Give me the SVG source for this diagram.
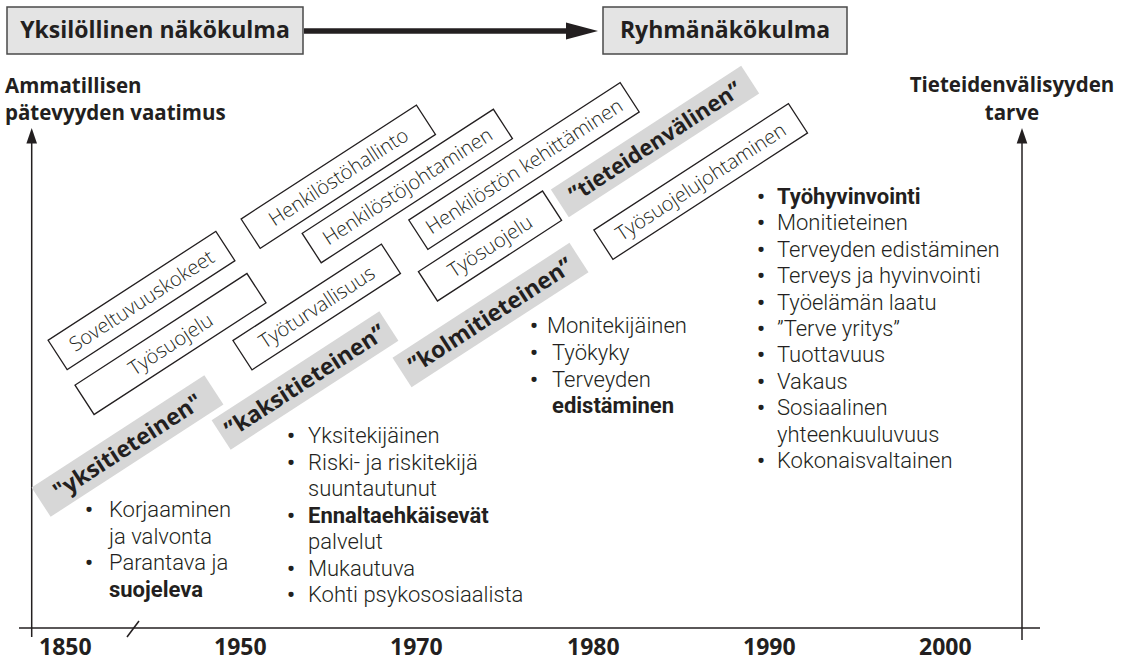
<svg xmlns="http://www.w3.org/2000/svg" width="1124" height="663" viewBox="0 0 1124 663">
<defs>
<style>
text{font-family:"Open Sans","Liberation Sans",sans-serif;fill:#231f20}
.lst{font-family:Roboto,"Open Sans","Liberation Sans",sans-serif;font-size:22px;font-weight:300}
.lst .b{font-weight:700}
.lst .u{font-weight:700}
.hdr rect{fill:#e4e4e4;stroke:#4a4a4a;stroke-width:1.5}
.hdr text{font-size:23px;font-weight:700;text-anchor:middle}
.ax{font-size:20.5px;font-weight:700}
.yr{font-size:23px;font-weight:700}
.box rect{fill:#fff;stroke:#231f20;stroke-width:1.3}
.box text{font-size:20px;font-weight:300;text-anchor:middle}
.band rect{fill:#d7d7d7}
.band text{font-size:23px;font-weight:700;text-anchor:middle}
.axis{stroke:#231f20;stroke-width:1.5;fill:none}
</style>
</defs>

<g id="hdr-yksilollinen" class="hdr">
<rect x="7" y="7" width="296" height="47"/>
<text x="155" y="38">Yksilöllinen näkökulma</text>
</g>
<g id="hdr-ryhma" class="hdr">
<rect x="603" y="7" width="244" height="47"/>
<text x="725" y="38">Ryhmänäkökulma</text>
</g>

<g id="connectors">
<line x1="304" y1="31" x2="570" y2="31" stroke="#231f20" stroke-width="5.5"/>
<polygon points="566,22.5 598,31 566,39.5" fill="#231f20"/>
</g>

<g id="axes">
<line class="axis" x1="19" y1="628" x2="1040" y2="628"/>
<line class="axis" x1="31.7" y1="637" x2="31.7" y2="143"/>
<polygon points="31.7,128 26.4,143.5 37,143.5" fill="#231f20"/>
<line class="axis" x1="1022" y1="640" x2="1022" y2="143"/>
<polygon points="1022,128 1016.7,143.5 1027.3,143.5" fill="#231f20"/>
<line class="axis" x1="127" y1="637" x2="139" y2="621" stroke-width="1.2"/>
</g>

<g id="axis-labels">
<text class="ax" x="5" y="93">Ammatillisen</text>
<text class="ax" x="5" y="120">pätevyyden vaatimus</text>
<text class="ax" x="1012" y="92" text-anchor="middle">Tieteidenvälisyyden</text>
<text class="ax" x="1012" y="120" text-anchor="middle">tarve</text>
</g>

<g id="years">
<text class="yr" x="39" y="655">1850</text>
<text class="yr" x="214" y="655">1950</text>
<text class="yr" x="390" y="655">1970</text>
<text class="yr" x="567" y="655">1980</text>
<text class="yr" x="743" y="655">1990</text>
<text class="yr" x="919" y="655">2000</text>
</g>

<g id="box-soveltuvuuskokeet" class="box" transform="translate(141.5,300.5) rotate(-33)">
<rect x="-100" y="-17.5" width="200" height="35"/>
<text x="0" y="0" dy="0.36em">Soveltuvuuskokeet</text>
</g>
<g id="box-tyosuojelu-1" class="box" transform="translate(170.5,344) rotate(-33)">
<rect x="-102.5" y="-17.5" width="205" height="35"/>
<text x="0" y="0" dy="0.36em">Työsuojelu</text>
</g>
<g id="box-henkilostohallinto" class="box" transform="translate(338.3,176.7) rotate(-33)">
<rect x="-104.5" y="-17.5" width="209" height="35"/>
<text x="0" y="0" dy="0.36em">Henkilöstöhallinto</text>
</g>
<g id="box-henkilostojohtaminen" class="box" transform="translate(407.3,186) rotate(-33)">
<rect x="-114" y="-17.5" width="228" height="35"/>
<text x="0" y="0" dy="0.36em">Henkilöstöjohtaminen</text>
</g>
<g id="box-tyoturvallisuus" class="box" transform="translate(316.7,307) rotate(-33)">
<rect x="-88.5" y="-17.5" width="177" height="35"/>
<text x="0" y="0" dy="0.36em">Työturvallisuus</text>
</g>
<g id="box-henkiloston-kehittaminen" class="box" transform="translate(524,166) rotate(-33)">
<rect x="-126" y="-17.5" width="252" height="35"/>
<text x="0" y="0" dy="0.36em">Henkilöstön kehittäminen</text>
</g>
<g id="box-tyosuojelu-2" class="box" transform="translate(490,246) rotate(-33)">
<rect x="-74" y="-17.5" width="148" height="35"/>
<text x="0" y="0" dy="0.36em">Työsuojelu</text>
</g>
<g id="box-tyosuojelujohtaminen" class="box" transform="translate(700.7,181.5) rotate(-33)">
<rect x="-116" y="-17.5" width="232" height="35"/>
<text x="0" y="0" dy="0.36em">Työsuojelujohtaminen</text>
</g>

<g id="band-yksitieteinen" class="band" transform="translate(127.5,446) rotate(-33)">
<rect x="-103" y="-17.5" width="206" height="35"/>
<text x="0" y="0" dy="0.36em">"yksitieteinen"</text>
</g>
<g id="band-kaksitieteinen" class="band" transform="translate(305,380.5) rotate(-33)">
<rect x="-100" y="-17.5" width="200" height="35"/>
<text x="0" y="0" dy="0.36em">”kaksitieteinen”</text>
</g>
<g id="band-kolmitieteinen" class="band" transform="translate(490.5,315) rotate(-33)">
<rect x="-105.5" y="-17.5" width="211" height="35"/>
<text x="0" y="0" dy="0.36em">”kolmitieteinen”</text>
</g>
<g id="band-tieteidenvalinen" class="band" transform="translate(655,141.5) rotate(-33)">
<rect x="-113.5" y="-16.5" width="227" height="33"/>
<text x="0" y="0" dy="0.36em" style="font-size:22px">”tieteidenvälinen”</text>
</g>

<g id="list-1850">
<text class="lst"><tspan class="u" x="85" y="517">•</tspan><tspan x="109" y="517">Korjaaminen</tspan><tspan x="109" y="543.5">ja valvonta</tspan><tspan class="u" x="85" y="570">•</tspan><tspan x="109" y="570">Parantava ja</tspan><tspan class="b" x="109" y="596.5">suojeleva</tspan></text>
</g>

<g id="list-1950">
<text class="lst"><tspan class="u" x="287" y="443">•</tspan><tspan x="308" y="443">Yksitekijäinen</tspan><tspan class="u" x="287" y="469.5">•</tspan><tspan x="308" y="469.5">Riski- ja riskitekijä</tspan><tspan x="308" y="496">suuntautunut</tspan><tspan class="u" x="287" y="522.5">•</tspan><tspan class="b" x="308" y="522.5">Ennaltaehkäisevät</tspan><tspan x="308" y="549">palvelut</tspan><tspan class="u" x="287" y="575.5">•</tspan><tspan x="308" y="575.5">Mukautuva</tspan><tspan class="u" x="287" y="602">•</tspan><tspan x="308" y="602">Kohti psykososiaalista</tspan></text>
</g>

<g id="list-1970">
<text class="lst"><tspan class="u" x="530" y="333">•</tspan><tspan x="547" y="333">Monitekijäinen</tspan><tspan class="u" x="530" y="360">•</tspan><tspan x="552" y="360">Työkyky</tspan><tspan class="u" x="530" y="386.5">•</tspan><tspan x="552" y="386.5">Terveyden</tspan><tspan class="b" x="552" y="413">edistäminen</tspan></text>
</g>

<g id="list-1990">
<text class="lst"><tspan class="u" x="757" y="204">•</tspan><tspan class="b" x="777" y="204">Työhyvinvointi</tspan><tspan class="u" x="757" y="230.4">•</tspan><tspan x="777" y="230.4">Monitieteinen</tspan><tspan class="u" x="757" y="256.8">•</tspan><tspan x="777" y="256.8">Terveyden edistäminen</tspan><tspan class="u" x="757" y="283.2">•</tspan><tspan x="777" y="283.2">Terveys ja hyvinvointi</tspan><tspan class="u" x="757" y="309.6">•</tspan><tspan x="777" y="309.6">Työelämän laatu</tspan><tspan class="u" x="757" y="336">•</tspan><tspan x="777" y="336">”Terve yritys”</tspan><tspan class="u" x="757" y="362.4">•</tspan><tspan x="777" y="362.4">Tuottavuus</tspan><tspan class="u" x="757" y="388.8">•</tspan><tspan x="777" y="388.8">Vakaus</tspan><tspan class="u" x="757" y="415.2">•</tspan><tspan x="777" y="415.2">Sosiaalinen</tspan><tspan x="777" y="441.6">yhteenkuuluvuus</tspan><tspan class="u" x="757" y="468">•</tspan><tspan x="777" y="468">Kokonaisvaltainen</tspan></text>
</g>
</svg>
